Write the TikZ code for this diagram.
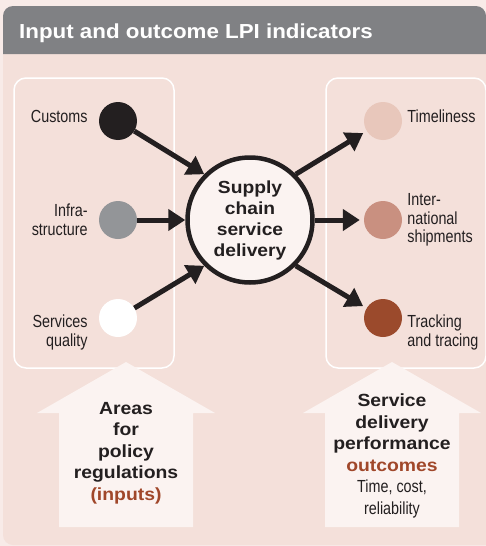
\documentclass[tikz,border=0pt]{standalone}
\usepackage{fontspec}
\setmainfont{Liberation Sans}
\newfontfamily\narrowfont{Liberation Sans}[FakeStretch=0.82]
\newfontfamily\widefont{Liberation Sans}[FakeStretch=1.1]
\usetikzlibrary{arrows.meta}
\usetikzlibrary{positioning}

\definecolor{pagebg}{HTML}{F8EBE8}
\definecolor{panelbg}{HTML}{F4E0DA}
\definecolor{titlegray}{HTML}{808184}
\definecolor{arrowfill}{HTML}{FBF3F1}
\definecolor{inkdark}{HTML}{231F20}
\definecolor{rust}{HTML}{A0472A}
\definecolor{infragray}{HTML}{939598}
\definecolor{timelypink}{HTML}{E8C7BB}
\definecolor{shippink}{HTML}{C99080}
\definecolor{trackbrown}{HTML}{9B4A2C}

\begin{document}
\begin{tikzpicture}[x=1pt,y=-1pt,
  dot/.style={circle,minimum size=38pt,inner sep=0pt},
  hub/.style={circle,draw=inkdark,line width=4.5pt,fill=arrowfill,minimum size=125pt,inner sep=0pt,
    align=center,text=inkdark,font=\widefont\bfseries\fontsize{17.5}{21}\selectfont},
  inlabel/.style={align=right,inner sep=0pt,text=inkdark,font=\narrowfont\fontsize{17.5}{18.5}\selectfont},
  outlabel/.style={align=left,inner sep=0pt,text=inkdark,font=\narrowfont\fontsize{17.5}{18.5}\selectfont},
  flow/.style={line width=5pt,draw=inkdark,-{Triangle[length=17pt,width=21pt]}},
  groupbox/.style={draw=white,line width=1.5pt,rounded corners=12pt,minimum width=160pt,minimum height=290pt},
  note/.style={align=center,inner sep=0pt,text=inkdark,font=\widefont\bfseries\fontsize{17.6}{21.6}\selectfont}]

  \useasboundingbox (0,0) rectangle (486,546);
  \fill[pagebg] (0,0) rectangle (486,546);

  % panel and title bar
  \fill[panelbg] (486,54) -- (3,54) [rounded corners=10pt] -- (3,545) [sharp corners] -- (486,545) -- cycle;
  \fill[titlegray] (3,54) [rounded corners=10pt] |- (486,6) [sharp corners] -- (486,54) -- cycle;
  \node[anchor=west,inner sep=0pt,text=white,font=\widefont\bfseries\fontsize{20.3}{24}\selectfont] (title) at (19,33) {Input and outcome LPI indicators};

  \node[groupbox] (inputs) at (94,223) {};
  \node[groupbox] (outcomes) at (406,223) {};

  % up arrows
  \foreach \cx in {126,392}
    \fill[arrowfill] (\cx,362) -- ++(89,51) -- ++(-22,0) -- ++(0,114) -- ++(-134,0) -- ++(0,-114) -- ++(-22,0) -- cycle;

  \node[dot,fill=inkdark] (customs) at (118,121) {};
  \node[dot,fill=infragray] (infra) at (118,220) {};
  \node[dot,fill=white] (services) at (118,318) {};

  \node[dot,fill=timelypink] (timely) at (383,121) {};
  \node[dot,fill=shippink] (shipments) at (383,220) {};
  \node[dot,fill=trackbrown] (tracking) at (383,318) {};

  \node[inlabel,left=11pt of customs,yshift=5pt] (customslab) {Customs};
  \node[inlabel,left=11pt of infra] (infralab) {Infra-\\structure};
  \node[inlabel,left=11pt of services,anchor=north east,yshift=3pt] (serviceslab) {Services\\quality};

  \node[outlabel,right=5pt of timely,yshift=5pt] (timelylab) {Timeliness};
  \node[outlabel,right=5pt of shipments] (shipmentslab) {Inter-\\national\\shipments};
  \node[outlabel,right=5pt of tracking,anchor=north west,yshift=3pt] (trackinglab) {Tracking\\and tracing};

  \node[hub] (hub) at (250,220) {Supply\\chain\\service\\delivery};

  \draw[flow] (customs) -- (hub.135);
  \draw[flow] (infra) -- (hub.west);
  \draw[flow] (services) -- (hub.225);
  \draw[flow,shorten >=4pt] (hub.45) -- (timely);
  \draw[flow,shorten >=4pt] (hub.east) -- (shipments);
  \draw[flow,shorten >=4pt] (hub.-45) -- (tracking);

  \node[note] (inputsnote) at (126,453) {Areas\\for\\policy\\regulations\\\textcolor{rust}{(inputs)}};
  \node[note] (outcomesnote) at (392,456) {Service\\delivery\\performance\\\textcolor{rust}{outcomes}\\
    {\narrowfont\mdseries\fontsize{17.5}{18}\selectfont Time, cost,}\\{\narrowfont\mdseries\fontsize{17.5}{18}\selectfont reliability}};
\end{tikzpicture}
\end{document}
